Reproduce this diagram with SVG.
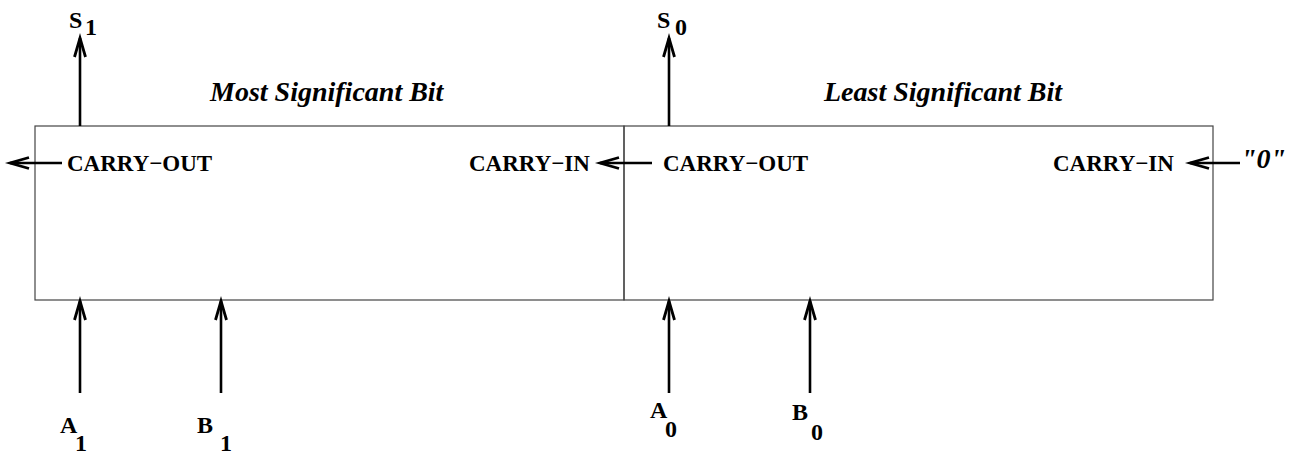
<svg xmlns="http://www.w3.org/2000/svg" width="1298" height="455" viewBox="0 0 1298 455">
  <style>
    .box { fill: none; stroke: #444; stroke-width: 1.2; }
    .wire { fill: none; stroke: #000; stroke-width: 2.6; marker-end: url(#arr); }
    .lbl { font-family: "Liberation Serif", "Times New Roman", serif; font-weight: bold; fill: #000; }
    .sig { font-size: 24px; }
    .port { font-size: 23px; }
    .title { font-size: 28px; font-style: italic; }
  </style>
  <defs>
    <marker id="arr" markerUnits="userSpaceOnUse" viewBox="-22 -8 24 16" refX="0" refY="0" markerWidth="24" markerHeight="16" orient="auto" overflow="visible">
      <path d="M -19 -5.5 L 0 0 L -19 5.5" fill="none" stroke="#000" stroke-width="2.8" stroke-linejoin="miter"/>
    </marker>
  </defs>

  <g id="msb">
    <rect class="box" x="35" y="126" width="589" height="174"/>
    <text class="lbl title" x="210" y="101">Most Significant Bit</text>
    <text class="lbl port" x="67" y="171">CARRY−OUT</text>
    <text class="lbl port" x="469" y="171">CARRY−IN</text>
  </g>

  <g id="lsb">
    <rect class="box" x="624" y="126" width="589" height="174"/>
    <text class="lbl title" x="824" y="101">Least Significant Bit</text>
    <text class="lbl port" x="663" y="171">CARRY−OUT</text>
    <text class="lbl port" x="1053" y="171">CARRY−IN</text>
  </g>

  <g id="signals">
    <text class="lbl sig" x="69" y="28">S</text>
    <text class="lbl sig" x="85" y="35">1</text>
    <text class="lbl sig" x="657" y="28">S</text>
    <text class="lbl sig" x="675" y="35">0</text>
    <text class="lbl sig" x="60" y="433">A</text>
    <text class="lbl sig" x="75" y="451">1</text>
    <text class="lbl sig" x="197" y="433">B</text>
    <text class="lbl sig" x="220" y="451">1</text>
    <text class="lbl sig" x="650" y="418">A</text>
    <text class="lbl sig" x="665" y="437">0</text>
    <text class="lbl sig" x="792" y="420">B</text>
    <text class="lbl sig" x="811" y="440">0</text>
    <text class="lbl title" x="1241" y="168" style="font-size:28px">"0"</text>
  </g>

  <g id="connectors">
    <line class="wire" x1="80" y1="126" x2="80" y2="38"/>
    <line class="wire" x1="669" y1="126" x2="669" y2="38"/>
    <line class="wire" x1="62" y1="163" x2="10" y2="163"/>
    <line class="wire" x1="652" y1="163" x2="600" y2="163"/>
    <line class="wire" x1="1240" y1="163" x2="1190" y2="163"/>
    <line class="wire" x1="80" y1="393" x2="80" y2="301"/>
    <line class="wire" x1="221" y1="393" x2="221" y2="301"/>
    <line class="wire" x1="669" y1="393" x2="669" y2="301"/>
    <line class="wire" x1="810" y1="393" x2="810" y2="301"/>
  </g>
</svg>
